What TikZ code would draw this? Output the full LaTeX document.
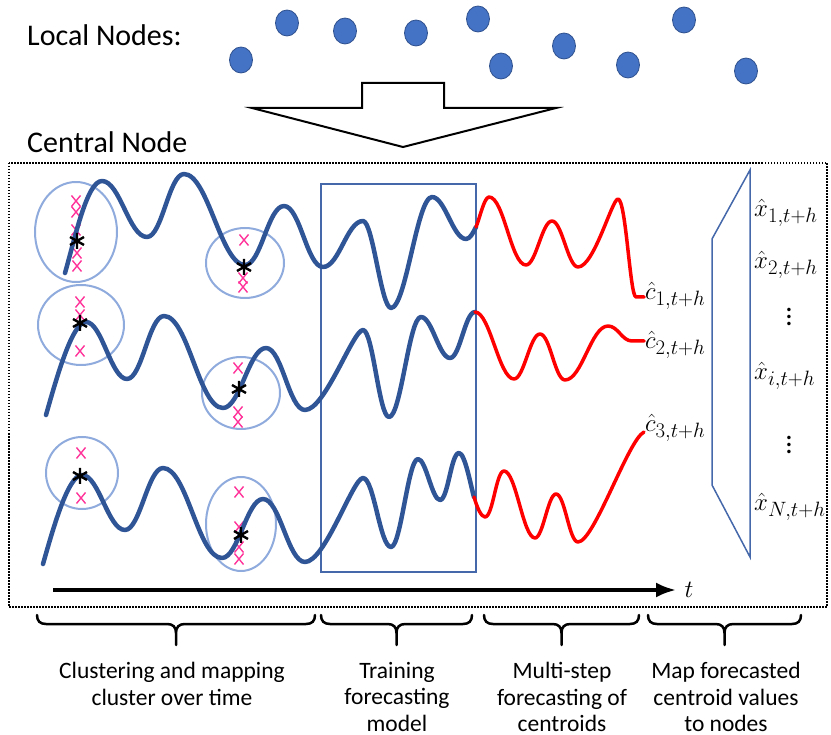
\documentclass[tikz,border=0pt]{standalone}
\usepackage{fontspec}
\setmainfont{Carlito}
\usepackage{amsmath}
\usetikzlibrary{arrows.meta, positioning}

\definecolor{nodeblue}{RGB}{68,114,196}
\definecolor{nodeedge}{RGB}{47,82,143}
\definecolor{curveblue}{RGB}{47,85,151}
\definecolor{ringblue}{RGB}{143,170,220}
\definecolor{boxblue}{RGB}{68,104,170}
\definecolor{markpink}{RGB}{255,51,153}

\newcommand{\vdotsbig}{\vbox{\baselineskip7pt\lineskiplimit0pt\hbox{.}\hbox{.}\hbox{.}}}

\tikzset{
  title/.style={font=\fontsize{30}{36}\selectfont, anchor=base west, inner sep=0pt},
  phase/.style={font=\fontsize{23.5}{26.5}\selectfont, align=center, anchor=north, inner sep=0pt},
  lab/.style={font=\fontsize{29}{33}\selectfont, inner sep=0pt},
  series/.style={curveblue, line width=4.5pt, line cap=round, line join=round},
  forecast/.style={red, line width=3.5pt, line cap=round, line join=round},
  ring/.style={ringblue, line width=2pt},
  curly/.style={line width=2.5pt, line cap=round},
  xmark/.pic={\draw[markpink, line width=1.4pt] (-4.5,-5.5) -- (4.5,5.5) (-4.5,5.5) -- (4.5,-5.5);},
  centroid/.pic={\draw[line width=2.4pt] (0,-8) -- (0,8) (-7,-4) -- (7,4) (-7,4) -- (7,-4);},
}

\begin{document}
\begin{tikzpicture}[>={Latex[length=20pt,width=15pt]}, x=1pt, y=-1pt]
    \useasboundingbox (0,0) rectangle (831,735);

    % Local nodes
    \node[title] (local) at (27,46) {Local Nodes:};
    \foreach \px/\py in {241/60, 287/23, 345/31, 416/33, 478/19, 501/66, 564/46, 628/65, 684/20, 746/71}
        \draw[nodeedge, fill=nodeblue, line width=0.8pt] (\px,\py) ellipse [x radius=11.5pt, y radius=13pt];

    % Block arrow to the central node
    \draw[line width=2pt, line join=miter] (362,83) -- (444,83) -- (444,108) -- (556,108)
        -- (403,147) -- (252,108) -- (362,108) -- cycle;

    % Central node frame
    \node[title] (central) at (27,153) {Central Node};
    \draw[line width=1.5pt, dash pattern=on 1.5pt off 1.5pt] (9,163) rectangle (827,607);

    % Training window and mapping trapezoid
    \draw[boxblue, line width=1.5pt] (321,184) rectangle (476,572);
    \draw[boxblue, line width=1.5pt] (750,170) -- (712,239) -- (712,485) -- (750,557) -- cycle;

    % Clusters
    \draw[ring] (76,232) ellipse [x radius=41pt, y radius=50pt];
    \draw[ring] (245,263) ellipse [x radius=39pt, y radius=35pt];
    \draw[ring] (81,325) ellipse [x radius=43pt, y radius=40pt];
    \draw[ring] (241,393) ellipse [x radius=39pt, y radius=36pt];
    \draw[ring] (82,473) ellipse [x radius=36pt, y radius=36pt];
    \draw[ring] (241,524) ellipse [x radius=35pt, y radius=47pt];
    \foreach \px/\py in {76/201, 76/212, 76/230, 77/253, 77/266, 244/240, 243/278, 243/287,
        80/302, 80/315, 80/351, 238/368, 238/412, 238/422, 81/453, 81/498,
        239/492, 239/527, 239/547, 239/559}
        \pic at (\px,\py) {xmark};

    % Centroid series 1
    \draw[series] (65,273) .. controls +(10,-35) and +(-15,0) .. (102,181)
        .. controls +(18,0) and +(-18,0) .. (147,237)
        .. controls +(15,0) and +(-15,0) .. (184,174)
        .. controls +(24,0) and +(-24,0) .. (245,265)
        .. controls +(16,0) and +(-16,0) .. (284,206)
        .. controls +(16,0) and +(-16,0) .. (323,267)
        .. controls +(16,0) and +(-16,0) .. (363,221)
        .. controls +(10,0) and +(-10,0) .. (391,308)
        .. controls +(15,0) and +(-15,0) .. (432,197)
        .. controls +(13,0) and +(-13,0) .. (466,239)
        .. controls +(4,0) and +(-3,6) .. (476,227);
    \draw[forecast] (476,227) .. controls +(3,-6) and +(-5,0) .. (489,197)
        .. controls +(15,0) and +(-15,0) .. (526,265)
        .. controls +(10,0) and +(-10,0) .. (552,221)
        .. controls +(10,0) and +(-10,0) .. (578,267)
        .. controls +(16,0) and +(-6,0) .. (618,199)
        .. controls +(8,0) and +(-6,0) .. (636,297)
        .. controls +(3,0) and +(-3,0) .. (644,297);

    % Centroid series 2
    \draw[series] (46,415) .. controls +(10,-35) and +(-14,0) .. (86,322)
        .. controls +(16,0) and +(-16,0) .. (127,379)
        .. controls +(15,0) and +(-15,0) .. (164,316)
        .. controls +(24,0) and +(-24,0) .. (223,408)
        .. controls +(17,0) and +(-17,0) .. (266,348)
        .. controls +(16,0) and +(-16,0) .. (305,410)
        .. controls +(20,0) and +(-10,0) .. (363,330)
        .. controls +(10,0) and +(-10,0) .. (389,417)
        .. controls +(12,0) and +(-12,0) .. (421,317)
        .. controls +(11,0) and +(-11,0) .. (450,358)
        .. controls +(10,0) and +(-10,0) .. (475,312);
    \draw[forecast] (475,312) .. controls +(15,0) and +(-15,0) .. (514,379)
        .. controls +(10,0) and +(-10,0) .. (540,334)
        .. controls +(10,0) and +(-10,0) .. (565,380)
        .. controls +(17,0) and +(-17,0) .. (608,326)
        .. controls +(10,0) and +(-10,0) .. (632,341) -- (644,341);

    % Centroid series 3
    \draw[series] (43,564) .. controls +(10,-35) and +(-14,0) .. (82,475)
        .. controls +(17,0) and +(-17,0) .. (125,530)
        .. controls +(15,0) and +(-15,0) .. (163,468)
        .. controls +(24,0) and +(-24,0) .. (222,558)
        .. controls +(16,0) and +(-16,0) .. (263,499)
        .. controls +(17,0) and +(-17,0) .. (305,562)
        .. controls +(20,0) and +(-10,0) .. (363,478)
        .. controls +(11,0) and +(-11,0) .. (391,547)
        .. controls +(10,0) and +(-10,0) .. (418,459)
        .. controls +(8,0) and +(-8,0) .. (440,500)
        .. controls +(8,0) and +(-8,0) .. (459,453)
        .. controls +(6,0) and +(-3,-10) .. (474,497);
    \draw[forecast] (474,497) .. controls +(3,10) and +(-4,0) .. (485,517)
        .. controls +(8,0) and +(-8,0) .. (504,471)
        .. controls +(12,0) and +(-12,0) .. (535,538)
        .. controls +(8,0) and +(-8,0) .. (556,494)
        .. controls +(9,0) and +(-9,0) .. (578,542)
        .. controls +(16,0) and +(-16,8) .. (644,432);

    % Centroids
    \foreach \px/\py in {77/241, 244/267, 80/323, 239/389, 80/476, 241/535}
        \pic at (\px,\py) {centroid};

    % Forecast labels
    \node[lab, anchor=west] (c1) at (645,296) {$\hat{c}_{1,t+h}$};
    \node[lab, anchor=west] (c2) at (645,345) {$\hat{c}_{2,t+h}$};
    \node[lab, anchor=west] (c3) at (645,428) {$\hat{c}_{3,t+h}$};
    \node[lab, anchor=west] (x1) at (754,213) {$\hat{x}_{1,t+h}$};
    \node[lab, anchor=west] (x2) at (754,265) {$\hat{x}_{2,t+h}$};
    \node[lab] (d1) at (789,317) {\vdotsbig};
    \node[lab, anchor=west] (xi) at (754,376) {$\hat{x}_{i,t+h}$};
    \node[lab] (d2) at (789,445) {\vdotsbig};
    \node[lab, anchor=west] (xn) at (754,507) {$\hat{x}_{N,t+h}$};

    % Time axis
    \coordinate (t0) at (53,590);
    \coordinate (t1) at (676,590);
    \draw[->, line width=3.5pt] (t0) -- (t1);
    \node[lab] (tlab) at (689,590) {$t$};

    % Phases
    \foreach \a/\b in {37/315, 321/472, 484/639, 648/801}{
        \pgfmathsetmacro\m{(\a+\b)/2}
        \draw[curly] (\a,615) .. controls (\a,621) and (\a+3,624) .. (\a+9,624) -- (\m-9,624)
            .. controls (\m-3,624) and (\m,627) .. (\m,633) -- (\m,645)
            (\m,633) .. controls (\m,627) and (\m+3,624) .. (\m+9,624) -- (\b-9,624)
            .. controls (\b-3,624) and (\b,621) .. (\b,615);
    }
    \node[phase] (cluster) at (172,662) {Clustering and mapping\\cluster over time};
    \node[phase] (train) at (397,662) {Training\\forecasting\\model};
    \node[phase] (multi) at (562,662) {Multi-step\\forecasting of\\centroids};
    \node[phase] (map) at (726,662) {Map forecasted\\centroid values\\to nodes};
\end{tikzpicture}
\end{document}
